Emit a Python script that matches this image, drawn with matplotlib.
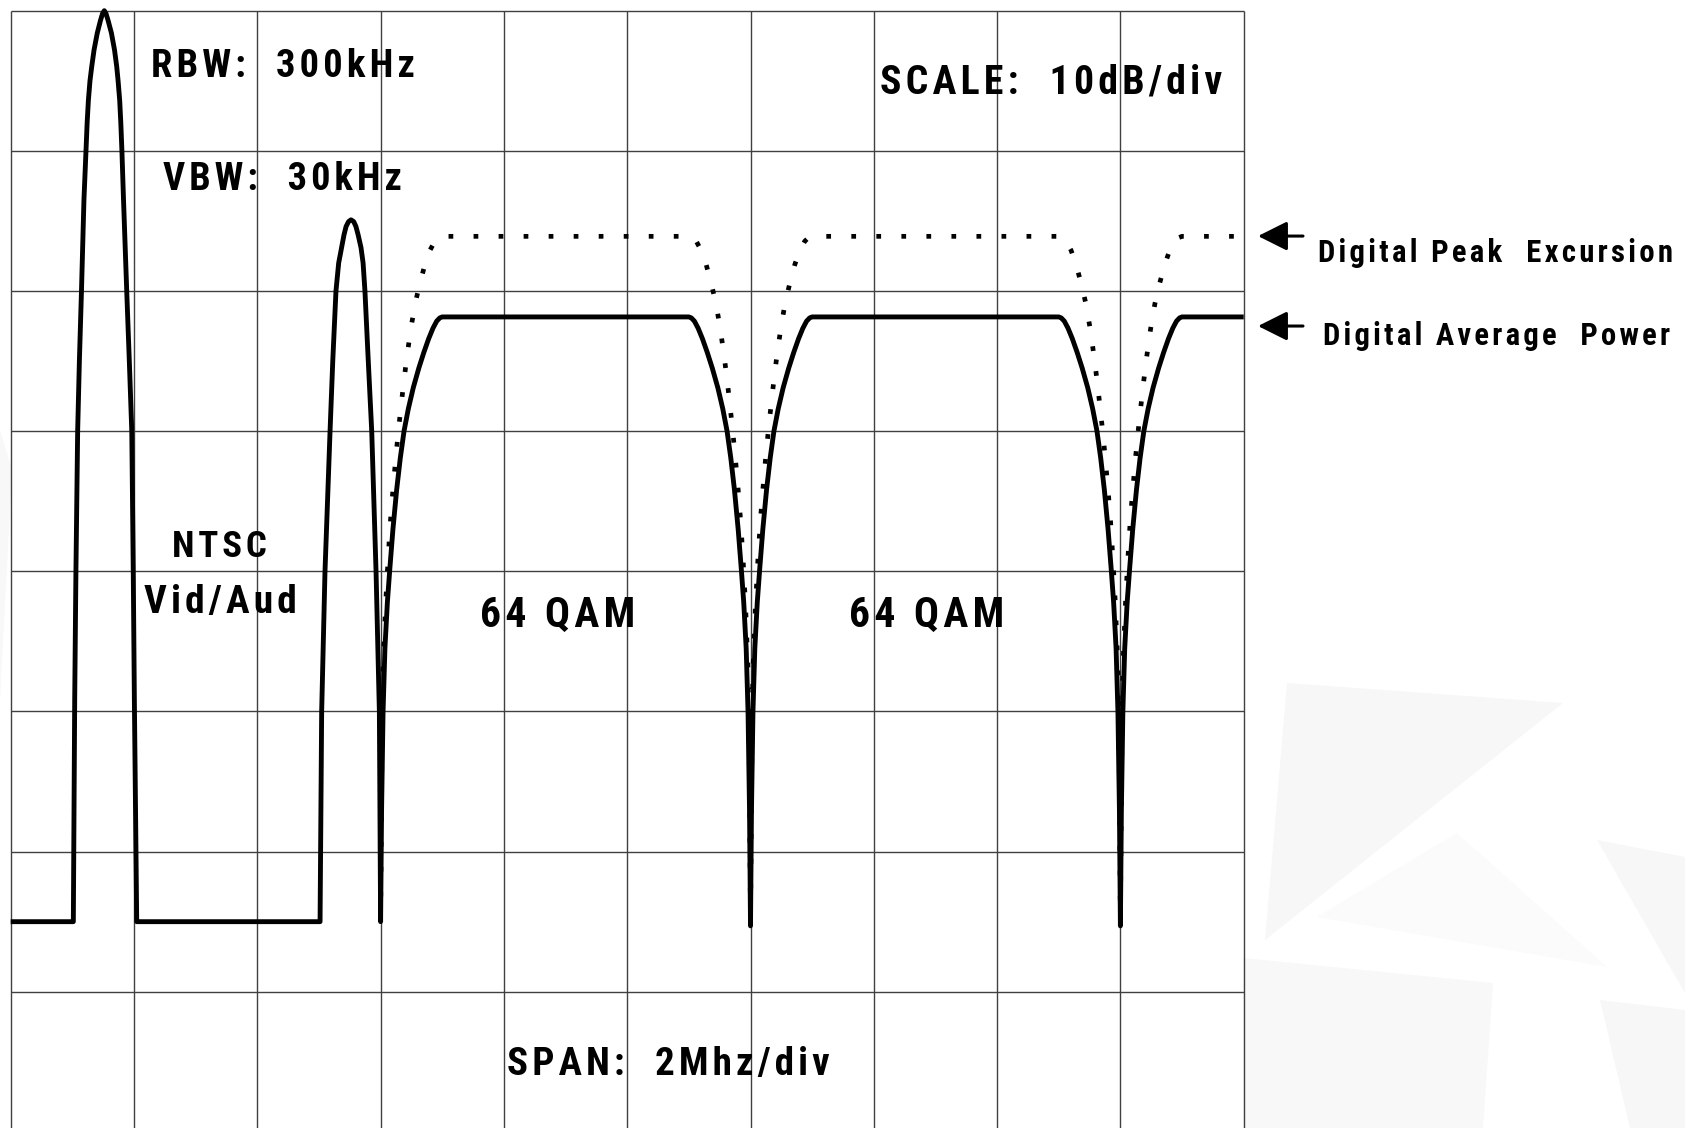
import matplotlib
matplotlib.use("Agg")
import matplotlib.pyplot as plt
from matplotlib import font_manager
from matplotlib.patches import FancyArrowPatch, Polygon

# ---------------------------------------------------------------------------
# Spectrum analyser sketch: NTSC carriers followed by 64-QAM digital channels.
# Units: x in frequency divisions (2 MHz/div), y in amplitude divisions (10 dB/div)
# ---------------------------------------------------------------------------
N_XDIV, N_YDIV = 10, 8

NOISE_FLOOR = 1.5

# NTSC video carrier
VIDEO_X = [0.508, 0.519, 0.529, 0.543, 0.557, 0.574, 0.594, 0.611, 0.620, 0.630,
           0.643, 0.657, 0.676, 0.702, 0.728, 0.745, 0.759, 0.773, 0.790, 0.817,
           0.842, 0.860, 0.871, 0.884, 0.893, 0.902, 0.915, 0.941, 0.962, 0.982,
           0.994, 1.003, 1.022]
VIDEO_Y = [1.50, 3.08, 4.00, 5.00, 5.50, 6.00, 6.65, 7.00, 7.20, 7.36,
           7.50, 7.60, 7.72, 7.84, 7.93, 7.98, 8.00, 7.98, 7.93, 7.84,
           7.72, 7.60, 7.50, 7.36, 7.20, 7.00, 6.65, 6.00, 5.50, 5.00,
           4.00, 3.08, 1.50]

# NTSC aural carrier
AUDIO_X = [2.509, 2.522, 2.549, 2.590, 2.612, 2.638, 2.660, 2.684, 2.703, 2.720,
           2.740, 2.760, 2.782, 2.800, 2.818, 2.841, 2.858, 2.873, 2.900, 2.928,
           2.963, 2.990, 3.005]
AUDIO_Y = [1.50, 3.00, 4.00, 5.00, 5.50, 6.00, 6.20, 6.31, 6.40, 6.46,
           6.495, 6.508, 6.495, 6.46, 6.40, 6.31, 6.20, 6.00, 5.50, 5.00,
           4.00, 3.00, 1.50]

# Digital channel band edges (notches) and their floor depth
NOTCH_X = [3.0, 6.0, 9.0]
NOTCH_FLOOR = [1.50, 1.47, 1.47]

# Digital average power: roll-off next to each notch, ending on the flat level
AVG_EDGE_OFFSET = [0.000, 0.008, 0.020, 0.035, 0.055, 0.075, 0.100, 0.130, 0.160,
                   0.190, 0.225, 0.265, 0.310, 0.350, 0.390, 0.425, 0.455, 0.480,
                   0.500]
AVG_EDGE_LEVEL = [None, 2.30, 3.00, 3.45, 3.78, 4.02, 4.30, 4.58, 4.81,
                  5.00, 5.16, 5.31, 5.45, 5.56, 5.66, 5.735, 5.785, 5.808,
                  5.815]

# Digital peak excursion: roll-off next to each notch, ending on the flat level
PEAK_EDGE_OFFSET = [0.000, 0.008, 0.020, 0.040, 0.060, 0.080, 0.100, 0.125, 0.150,
                    0.180, 0.210, 0.245, 0.280, 0.320, 0.360, 0.400, 0.440, 0.470,
                    0.500]
PEAK_EDGE_LEVEL = [None, 2.50, 3.30, 3.75, 4.08, 4.36, 4.58, 4.83, 5.05,
                   5.29, 5.51, 5.73, 5.91, 6.06, 6.19, 6.29, 6.355, 6.38,
                   6.39]

RIGHT_EDGE = 10.0


def digital_trace(offsets, levels):
    """Roll-off into and out of each notch, flat between them."""
    xs, ys = [], []
    for i, (nx, floor) in enumerate(zip(NOTCH_X, NOTCH_FLOOR)):
        lv = [floor] + list(levels[1:])
        if i > 0:  # falling edge into this notch
            xs += [nx - o for o in reversed(offsets)]
            ys += list(reversed(lv))
        xs += [nx + o for o in offsets]  # rising edge out of the notch
        ys += lv
    xs.append(RIGHT_EDGE)
    ys.append(levels[-1])
    return xs, ys


# ---------------------------------------------------------------------------
names = {f.name for f in font_manager.fontManager.ttflist}
FONT = next((n for n in ("Liberation Sans Narrow", "Roboto Condensed",
                         "Open Sans Condensed", "Liberation Sans") if n in names),
            "DejaVu Sans")
FAMILY = [FONT, "DejaVu Sans"]

W, H = 1685, 1128
fig = plt.figure(figsize=(W / 100, H / 100), dpi=100)
fig.patch.set_facecolor("white")

# faint background shapes on the page
bg = fig.add_axes([0, 0, 1, 1], zorder=-5)
bg.set_xlim(0, W)
bg.set_ylim(H, 0)
bg.axis("off")
shapes = [
    ([(1287, 683), (1563, 703), (1265, 940)], "#f7f7f7"),
    ([(1457, 833), (1607, 967), (1317, 917)], "#fbfbfb"),
    ([(1597, 840), (1685, 857), (1685, 993)], "#f7f7f7"),
    ([(1243, 958), (1493, 983), (1483, 1128), (1243, 1128)], "#f8f8f8"),
    ([(1600, 1000), (1685, 1010), (1685, 1128), (1630, 1128)], "#f7f7f7"),
    ([(0, 430), (12, 470), (0, 700)], "#f8f8f8"),
]
for pts, col in shapes:
    bg.add_patch(Polygon(pts, closed=True, facecolor=col, edgecolor="none"))

ax = fig.add_axes([10.7 / W, -3.9 / H, 1233 / W, 1121.2 / H])
ax.set_xlim(0, N_XDIV)
ax.set_ylim(0, N_YDIV)
ax.axis("off")
ax.patch.set_alpha(0)

grid_kw = dict(color="#404040", lw=1.0, zorder=1, clip_on=False)
ax.vlines(range(N_XDIV + 1), 0, N_YDIV, **grid_kw)
ax.hlines(range(1, N_YDIV + 1), 0, N_XDIV, **grid_kw)

# peak excursion (dotted)
px, py = digital_trace(PEAK_EDGE_OFFSET, PEAK_EDGE_LEVEL)
ax.plot(px, py, color="black", lw=3.4, linestyle=(0, (1.0, 4.3)),
        dash_capstyle="butt", zorder=3, clip_on=False)

# average power / analogue carriers (solid)
sx = [0.0] + VIDEO_X + AUDIO_X[:-1]
sy = [NOISE_FLOOR] + VIDEO_Y + AUDIO_Y[:-1]
dx, dy = digital_trace(AVG_EDGE_OFFSET, AVG_EDGE_LEVEL)
sx += dx
sy += dy
ax.plot(sx, sy, color="black", lw=3.5, solid_joinstyle="round",
        solid_capstyle="butt", zorder=4, clip_on=False)

# ---------------------------------------------------------------------------
# annotations: letter-spaced bold labels, each fitted to its span in divisions
renderer = fig.canvas.get_renderer()
XPX = ax.transData.transform((1, 0))[0] - ax.transData.transform((0, 0))[0]


def spaced(s):
    return "\u200a".join(s)


def label(x0, x1, y, s, size):
    t = ax.text(x0, y, spaced(s), family=FAMILY, weight="bold", color="black",
                fontsize=size, ha="left", va="baseline", zorder=5, clip_on=False)
    w = t.get_window_extent(renderer).width
    target = (x1 - x0) * XPX
    if w > target:
        t.set_fontsize(size * target / w)
    w = t.get_window_extent(renderer).width
    # centre the text within its span
    t.set_x(x0 + (target - w) / 2 / XPX)
    return t


label(1.130, 3.280, 7.525, "RBW:  300kHz", 32)
label(1.233, 3.182, 6.720, "VBW:  30kHz", 32)
label(7.050, 9.832, 7.410, "SCALE:  10dB/div", 32)
label(1.306, 2.075, 4.104, "NTSC", 30)
label(1.076, 2.320, 3.700, "Vid/Aud", 32)
label(3.800, 5.078, 3.606, "64 QAM", 30)
label(6.792, 8.071, 3.606, "64 QAM", 30)
label(4.023, 6.645, 0.406, "SPAN:  2Mhz/div", 32)
label(10.603, 13.474, 6.207, "Digital Peak  Excursion", 29)
label(10.643, 13.460, 5.615, "Digital Average  Power", 29)

for yv in (6.392, 5.75):
    ax.add_patch(FancyArrowPatch((10.481, yv), (10.116, yv),
                                 arrowstyle="-|>,head_length=18,head_width=9",
                                 mutation_scale=1, lw=2.2, color="black",
                                 shrinkA=0, shrinkB=0, clip_on=False, zorder=5))

fig.savefig("out.png", dpi=100, facecolor="white")
